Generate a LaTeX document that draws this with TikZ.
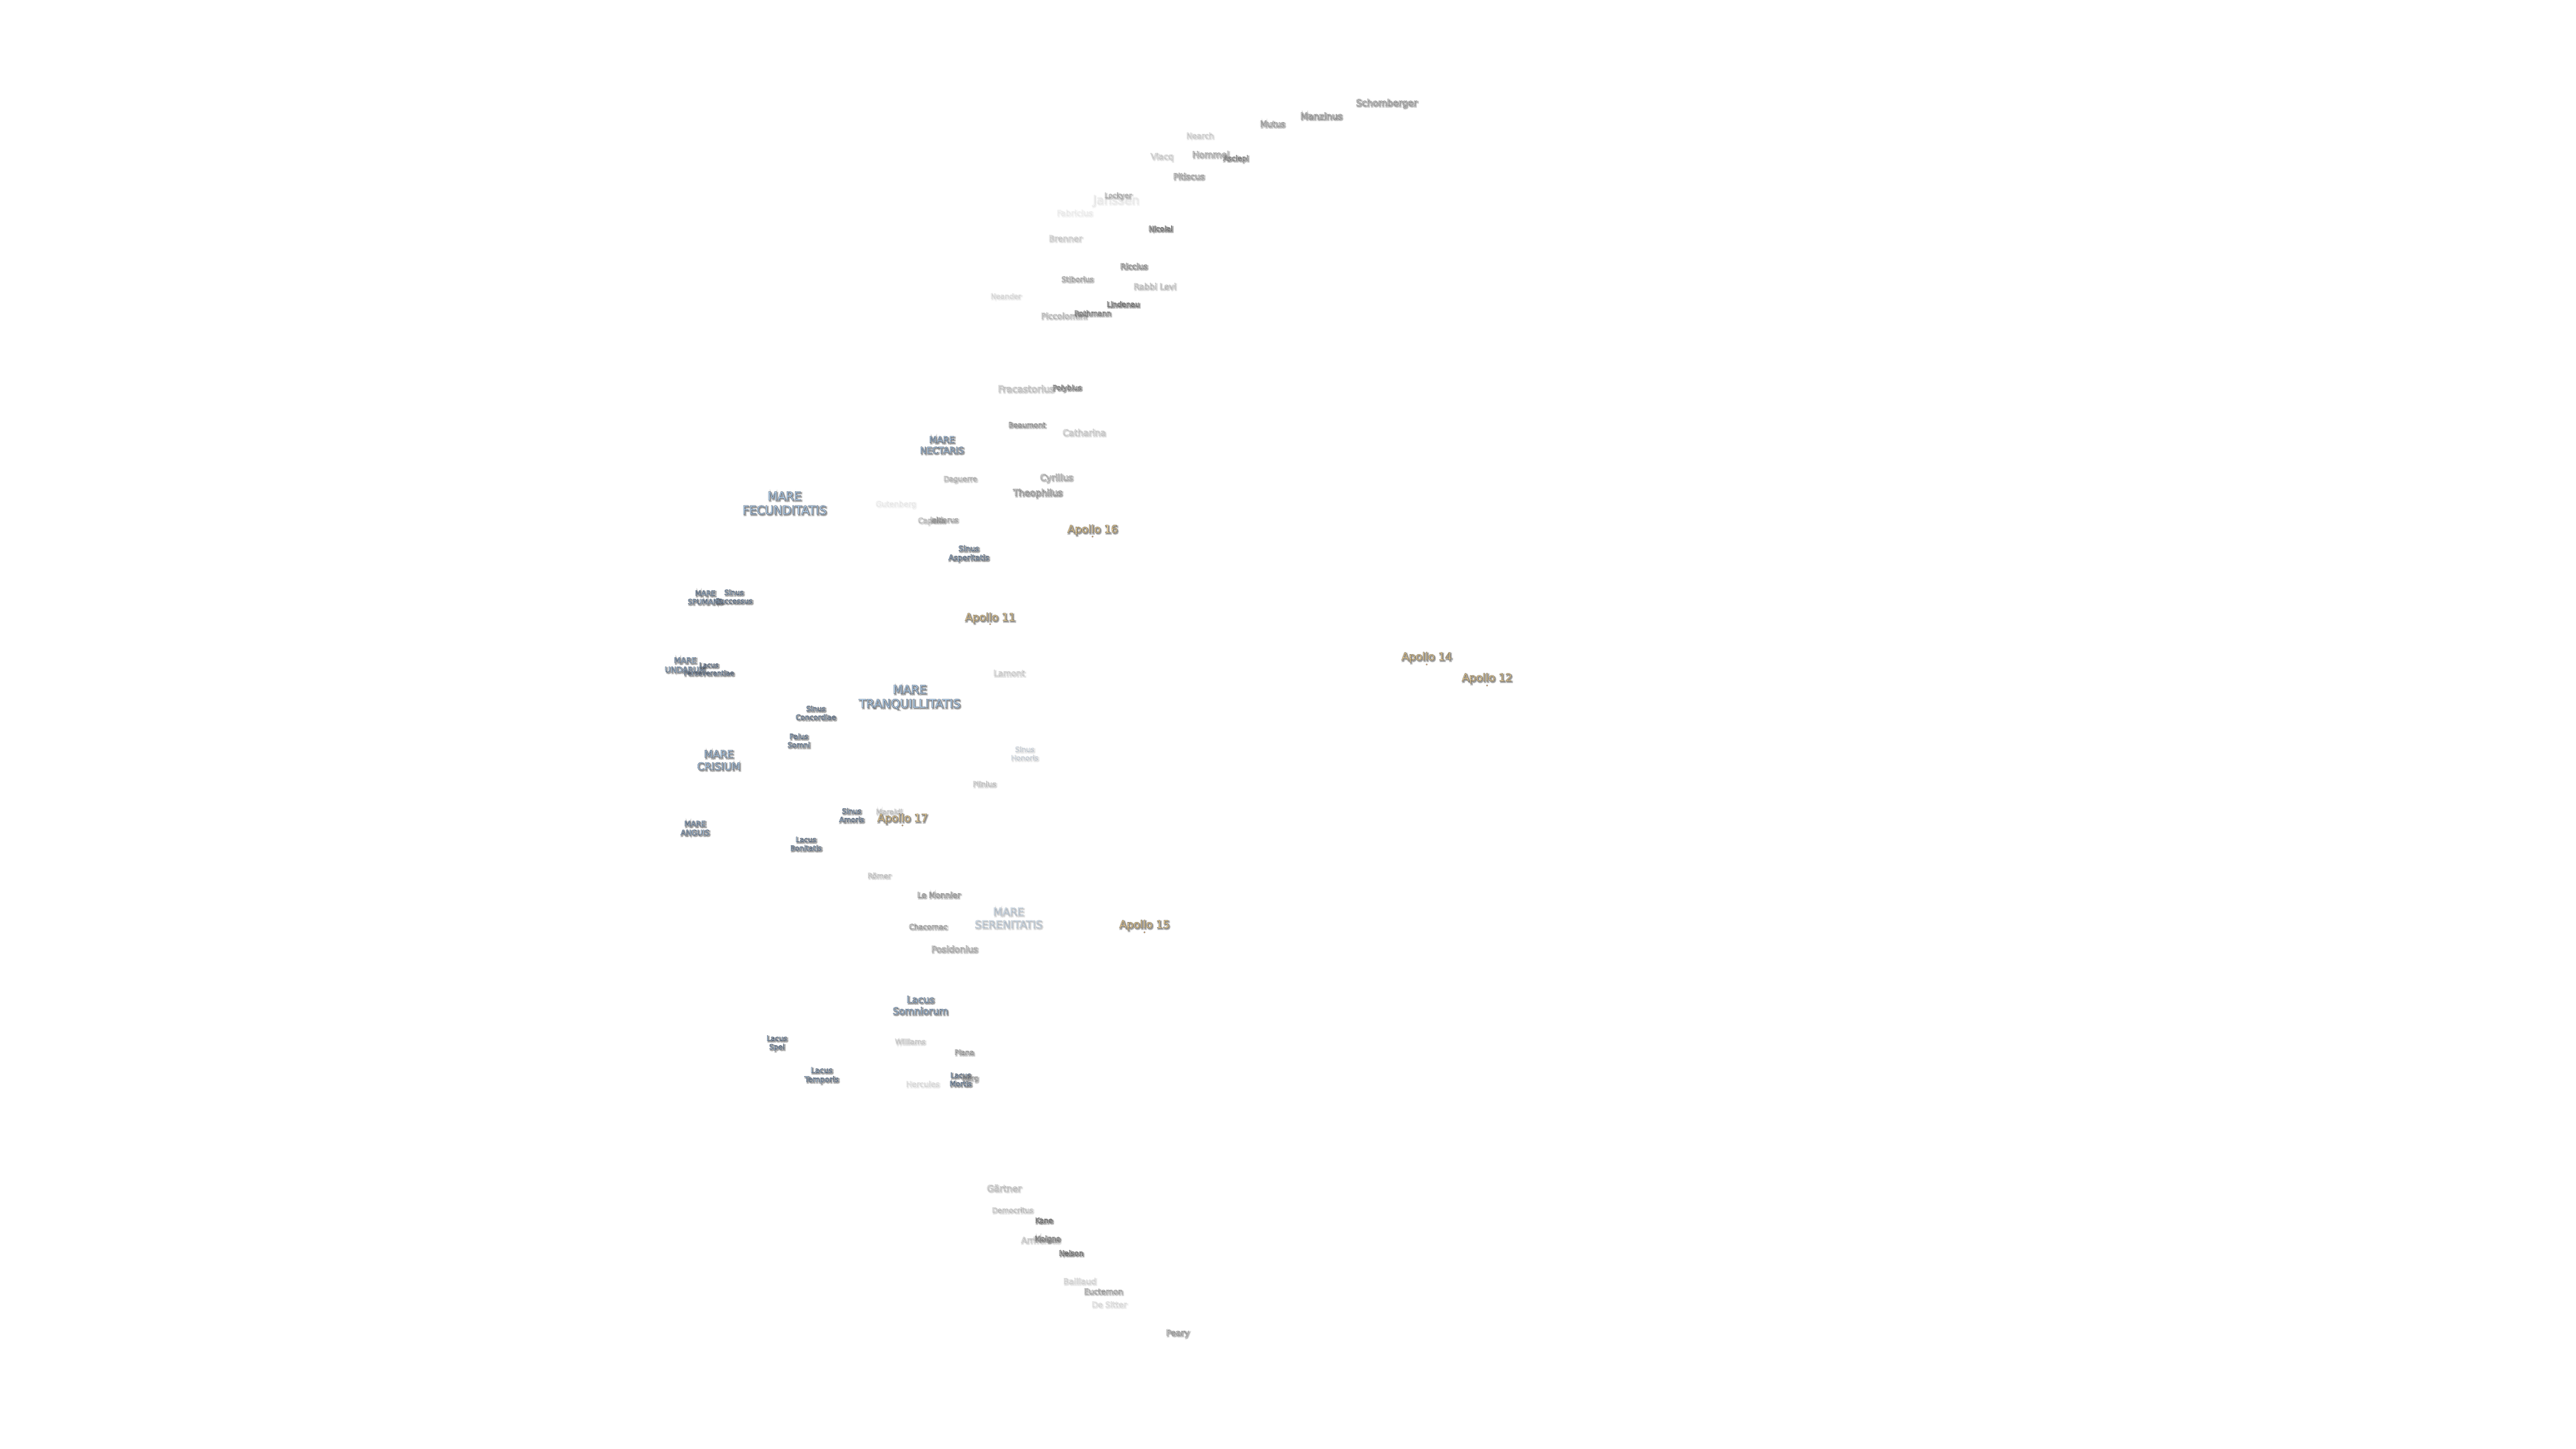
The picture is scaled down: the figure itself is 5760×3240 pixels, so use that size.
\documentclass[tikz,border=0pt]{standalone}
\usepackage{fontspec}
\setmainfont{DejaVu Sans}
\usetikzlibrary{shapes.geometric}
\def\ksea{.76 .88 .98 rg .27 .32 .40 RG}
\def\kcrater{.96 .96 .96 rg .30 .30 .30 RG}
\def\kapollo{1 .88 .65 rg .35 .32 .26 RG}
\tikzset{
  lbl/.style={inner sep=0pt,outer sep=0pt,align=center,anchor=center},
  landing/.style={circle,inner sep=0pt,minimum size=1pt,draw=black!60,line width=0.12pt,fill=orange!55!white}
}
% name, x, y, size(px), opacity, kind, text
\newcommand\lab[7]{%
  \pgfmathsetmacro\fs{#4*0.28453}%
  \pgfmathsetmacro\ls{#4*0.28453*1.19}%
  \pgfmathsetmacro\ops{#5*0.36}%
  \node[lbl,opacity=\ops,font=\fontsize{\fs pt}{\ls pt}\selectfont] (#1-sh) at (#2+2.2,#3+2.4)
    {\special{pdf:code q 2 Tr 1.0 w .3 .3 .3 rg .3 .3 .3 RG}#7\special{pdf:code Q}};
  \node[lbl,opacity=#5,font=\fontsize{\fs pt}{\ls pt}\selectfont] (#1) at (#2,#3)
    {\special{pdf:code q 2 Tr 0.17 w \csname k#6\endcsname}#7\special{pdf:code Q}};
}
\begin{document}
\begin{tikzpicture}[x=0.01cm,y=-0.01cm]
\useasboundingbox (0,0) rectangle (5760,3240);
\fill[white] (0,0) rectangle (5760,3240);
% faint first (lower in stacking)
\lab{janssen}{2495}{449}{27}{.13}{crater}{Janssen}
\lab{fabricius}{2403}{476}{18.3}{.10}{crater}{Fabricius}
\lab{gutenberg}{2003}{1128}{17}{.10}{crater}{Gutenberg}
\lab{schomberger}{3100}{231}{20.4}{.75}{crater}{Schomberger}
\lab{manzinus}{2954}{259}{20}{.8}{crater}{Manzinus}
\lab{mutus}{2845}{277}{18.4}{.7}{crater}{Mutus}
\lab{nearch}{2683}{303}{17.3}{.28}{crater}{Nearch}
\lab{viacq}{2598}{351}{18.5}{.3}{crater}{Viacq}
\lab{hommel}{2707}{345}{19.7}{.6}{crater}{Hommel}
\lab{asclepi}{2763}{355}{16}{.85}{crater}{Asclepi}
\lab{pitiscus}{2658}{394}{18.6}{.65}{crater}{Pitiscus}
\lab{lockyer}{2500}{438}{15.8}{.45}{crater}{Lockyer}
\lab{nicolai}{2595}{511}{16}{1}{crater}{Nicolai}
\lab{brenner}{2382}{533}{18.7}{.3}{crater}{Brenner}
\lab{riccius}{2535}{595}{17.4}{.8}{crater}{Riccius}
\lab{stiborius}{2409}{624}{16.3}{.55}{crater}{Stiborius}
\lab{rabbilevi}{2582}{640}{18.4}{.4}{crater}{Rabbi Levi}
\lab{neander}{2249}{662}{16}{.2}{crater}{Neander}
\lab{piccolomini}{2379}{706}{18.4}{.45}{crater}{Piccolomini}
\lab{lindenau}{2511}{680}{16}{1}{crater}{Lindenau}
\lab{rothmann}{2443}{700}{16}{.85}{crater}{Rothmann}
\lab{fracastorius}{2294}{869}{20.8}{.4}{crater}{Fracastorius}
\lab{polybius}{2386}{868}{15.7}{.9}{crater}{Polybius}
\lab{beaumont}{2296}{950}{16}{.7}{crater}{Beaumont}
\lab{catharina}{2424}{967}{19.8}{.35}{crater}{Catharina}
\lab{nectaris}{2106}{995}{20}{1}{sea}{MARE\\NECTARIS}
\lab{daguerre}{2147}{1072}{16}{.45}{crater}{Daguerre}
\lab{cyrillus}{2362}{1069}{20}{.6}{crater}{Cyrillus}
\lab{theophilus}{2320}{1103}{20.2}{.8}{crater}{Theophilus}
\lab{fecunditatis}{1754}{1125}{26.4}{1}{sea}{MARE\\FECUNDITATIS}
\lab{capella}{2083}{1165}{16.5}{.4}{crater}{Capella}
\lab{isidorus}{2111}{1162}{16}{.55}{crater}{Isidorus}
\lab{asperitatis}{2166}{1238}{17}{1}{sea}{Sinus\\Asperitatis}
\lab{spumans}{1577}{1336}{16}{1}{sea}{MARE\\SPUMANS}
\lab{successus}{1641}{1334}{16}{1}{sea}{Sinus\\Successus}
\lab{undarum}{1532}{1487}{17.5}{1}{sea}{MARE\\UNDARUM}
\lab{perseverantiae}{1585}{1496}{15}{1}{sea}{Lacus\\Perseverantiae}
\lab{lamont}{2256}{1505}{18.5}{.3}{crater}{Lamont}
\lab{tranquillitatis}{2034}{1559}{26.4}{1}{sea}{MARE\\TRANQUILLITATIS}
\lab{concordiae}{1824}{1594}{16}{1}{sea}{Sinus\\Concordiae}
\lab{somni}{1786}{1656}{16}{1}{sea}{Palus\\Somni}
\lab{crisium}{1607}{1700}{23}{1}{sea}{MARE\\CRISIUM}
\lab{honoris}{2291}{1685}{16}{.25}{sea}{Sinus\\Honoris}
\lab{plinius}{2201}{1753}{16.3}{.35}{crater}{Plinius}
\lab{amoris}{1904}{1823}{16}{1}{sea}{Sinus\\Amoris}
\lab{maraldi}{1988}{1815}{16}{.35}{crater}{Maraldi}
\lab{anguis}{1554}{1852}{16.7}{1}{sea}{MARE\\ANGUIS}
\lab{bonitatis}{1802}{1887}{16}{1}{sea}{Lacus\\Bonitatis}
\lab{romer}{1966}{1958}{16}{.35}{crater}{Römer}
\lab{lemonnier}{2099}{2001}{17.5}{.7}{crater}{Le Monnier}
\lab{serenitatis}{2255}{2053}{24}{.4}{sea}{MARE\\SERENITATIS}
\lab{chacornac}{2075}{2072}{16.2}{.6}{crater}{Chacornac}
\lab{posidonius}{2134}{2122}{19.7}{.6}{crater}{Posidonius}
\lab{somniorum}{2058}{2248}{21.5}{1}{sea}{Lacus\\Somniorum}
\lab{spei}{1737}{2333}{16}{1}{sea}{Lacus\\Spei}
\lab{williams}{2035}{2329}{16.2}{.3}{crater}{Williams}
\lab{plana}{2156}{2353}{16}{.65}{crater}{Plana}
\lab{temporis}{1837}{2405}{17}{1}{sea}{Lacus\\Temporis}
\lab{mortis}{2148}{2414}{16}{1}{sea}{Lacus\\Mortis}
\lab{burg}{2169}{2412}{16}{.6}{crater}{Bürg}
\lab{hercules}{2063}{2424}{17.2}{.2}{crater}{Hercules}
\lab{gartner}{2245}{2657}{20}{.4}{crater}{Gärtner}
\lab{democritus}{2264}{2706}{16}{.35}{crater}{Democritus}
\lab{kane}{2334}{2729}{16}{1}{crater}{Kane}
\lab{arrhenius}{2327}{2773}{18.4}{.35}{crater}{Arrhenius}
\lab{moigno}{2342}{2771}{16}{.85}{crater}{Moigno}
\lab{neison}{2395}{2802}{16}{1}{crater}{Neison}
\lab{baillaud}{2414}{2865}{18.4}{.25}{crater}{Baillaud}
\lab{euctemon}{2467}{2888}{17.3}{.6}{crater}{Euctemon}
\lab{desitter}{2480}{2917}{17.7}{.2}{crater}{De Sitter}
\lab{peary}{2633}{2982}{18.6}{.7}{crater}{Peary}
% Apollo landing sites
\lab{apolloxi}{2214}{1382}{24}{1}{apollo}{Apollo 11}
\lab{apolloxii}{3325}{1517}{24}{1}{apollo}{Apollo 12}
\lab{apolloxiv}{3190}{1470}{24}{1}{apollo}{Apollo 14}
\lab{apolloxv}{2559}{2069}{24}{1}{apollo}{Apollo 15}
\lab{apollosvi}{2443}{1185}{24}{1}{apollo}{Apollo 16}
\lab{apollosvii}{2018}{1831}{24}{1}{apollo}{Apollo 17}
\node[landing] (dotxi) at (2214,1396) {};
\node[landing] (dotxii) at (3325,1533) {};
\node[landing] (dotxiv) at (3190,1486) {};
\node[landing] (dotxv) at (2559,2085) {};
\node[landing] (dotsvi) at (2443,1200) {};
\node[landing] (dotsvii) at (2018,1846) {};
\end{tikzpicture}
\end{document}
